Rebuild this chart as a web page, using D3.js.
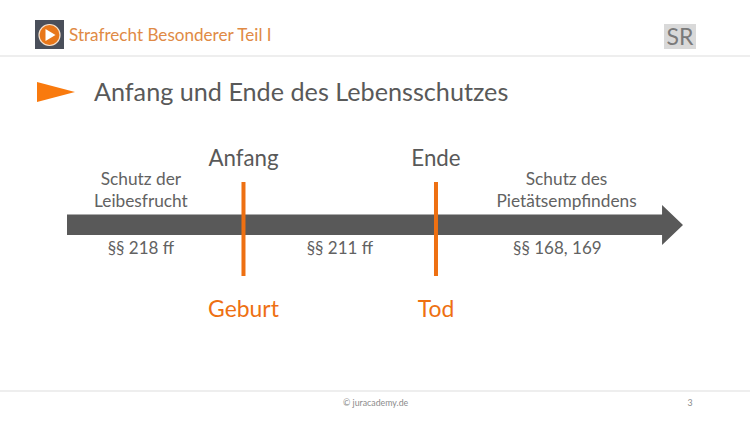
<!DOCTYPE html>
<html>
<head>
<meta charset="utf-8">
<script src="https://cdn.jsdelivr.net/npm/d3@7"></script>
<style>
  html, body { margin: 0; padding: 0; background: #fff; }
  svg { display: block; font-family: Lato, "Open Sans", sans-serif; }
</style>
</head>
<body>
<svg id="chart" width="750" height="422"></svg>
<script>
// Timeline values, in percent of the arrow length
const markerNames = ['Anfang', 'Ende'];
const markerEvents = ['Geburt', 'Tod'];
const markerPositions = [28.65, 59.9];
const phaseTop = [['Schutz der', 'Leibesfrucht'], [], ['Schutz des', 'Pietätsempfindens']];
const phaseTopPositions = [12.0, 0, 81.1];
const phaseLaws = ['§§ 218 ff', '§§ 211 ff', '§§ 168, 169'];
const phaseLawPositions = [12.0, 44.3, 79.6];

const headerTitle = 'Strafrecht Besonderer Teil I';
const slideTitle = 'Anfang und Ende des Lebensschutzes';
const footerText = '© juracademy.de';
const pageNumber = '3';

const orange = '#ee7012';
const grey = '#595959';
const textGrey = '#626262';

const svg = d3.select('#chart');
const x = d3.scaleLinear().domain([0, 100]).range([67, 683]);

// Header
svg.append('rect').attr('x', 35).attr('y', 20).attr('width', 29).attr('height', 29).attr('fill', '#4a4f5a');
svg.append('circle').attr('cx', 49.5).attr('cy', 35).attr('r', 10.5)
  .attr('fill', '#e8771a').attr('stroke', '#f6e3d0').attr('stroke-width', 1.2);
svg.append('path').attr('d', 'M45.5,29 L55.5,35 L45.5,41 Z').attr('fill', '#fff');
svg.append('text').attr('x', 69).attr('y', 41).attr('font-size', 17.1)
  .attr('fill', '#e08a45').text(headerTitle);
svg.append('rect').attr('x', 664).attr('y', 24).attr('width', 32).attr('height', 25).attr('fill', '#d9d9d9');
svg.append('text').attr('x', 680).attr('y', 45).attr('font-size', 23).attr('text-anchor', 'middle')
  .attr('fill', '#7a7a7a').text('SR');
svg.append('line').attr('x1', 0).attr('x2', 750).attr('y1', 56).attr('y2', 56)
  .attr('stroke', '#e8e8e8').attr('stroke-width', 1.5);

// Title
svg.append('path').attr('d', 'M37,82 L75,92 L37,102 Z').attr('fill', '#f97a0e');
svg.append('text').attr('x', 94).attr('y', 101).attr('font-size', 25.2)
  .attr('fill', grey).text(slideTitle);

// Timeline arrow
const bodyEnd = x(96.6);
const arrowTop = 214.5, arrowBottom = 235, arrowMid = 225, headTop = 205, headBottom = 245;
svg.append('path')
  .attr('d', d3.line()([
    [x(0), arrowTop], [bodyEnd, arrowTop], [bodyEnd, headTop], [x(100), arrowMid],
    [bodyEnd, headBottom], [bodyEnd, arrowBottom], [x(0), arrowBottom]
  ]) + 'Z')
  .attr('fill', grey);

// Markers
svg.append('g').selectAll('rect')
  .data(markerPositions)
  .enter().append('rect')
  .attr('x', d => x(d) - 2)
  .attr('y', 182)
  .attr('width', 4)
  .attr('height', 94)
  .attr('fill', orange);

svg.append('g').selectAll('text')
  .data(markerNames)
  .enter().append('text')
  .attr('x', (d, i) => x(markerPositions[i]))
  .attr('y', 166)
  .attr('text-anchor', 'middle')
  .attr('font-size', 22.3)
  .attr('fill', grey)
  .text(d => d);

svg.append('g').selectAll('text')
  .data(markerEvents)
  .enter().append('text')
  .attr('x', (d, i) => x(markerPositions[i]))
  .attr('y', 317)
  .attr('text-anchor', 'middle')
  .attr('font-size', 22.9)
  .attr('fill', orange)
  .text(d => d);

// Labels above the arrow
phaseTop.forEach((lines, i) => {
  lines.forEach((line, j) => {
    svg.append('text')
      .attr('x', x(phaseTopPositions[i]))
      .attr('y', 185 + j * 22)
      .attr('text-anchor', 'middle')
      .attr('font-size', 17.3)
      .attr('fill', textGrey)
      .text(line);
  });
});

// Paragraph labels below the arrow
svg.append('g').selectAll('text')
  .data(phaseLaws)
  .enter().append('text')
  .attr('x', (d, i) => x(phaseLawPositions[i]))
  .attr('y', 254)
  .attr('text-anchor', 'middle')
  .attr('font-size', 17)
  .attr('fill', textGrey)
  .text(d => d);

// Footer
svg.append('line').attr('x1', 0).attr('x2', 750).attr('y1', 391).attr('y2', 391)
  .attr('stroke', '#e8e8e8').attr('stroke-width', 1.5);
svg.append('text').attr('x', 343).attr('y', 406).attr('font-size', 8.8)
  .attr('fill', '#8c8c8c').text(footerText);
svg.append('text').attr('x', 690).attr('y', 406).attr('text-anchor', 'middle').attr('font-size', 8.8)
  .attr('fill', '#8c8c8c').text(pageNumber);
</script>
</body>
</html>
